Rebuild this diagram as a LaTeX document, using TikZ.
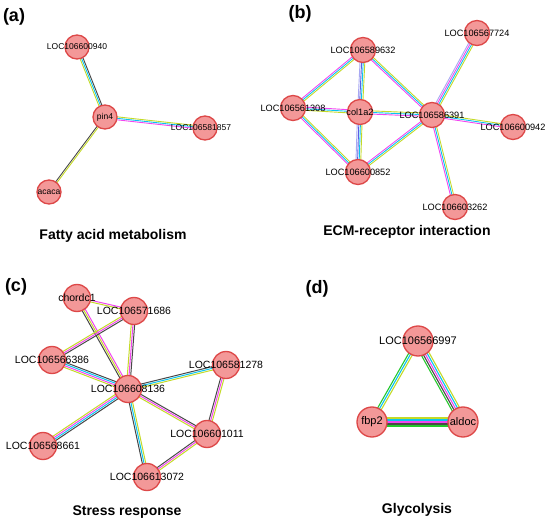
\documentclass[tikz,border=0pt]{standalone}
\usepackage{fontspec}
\setmainfont{Liberation Sans}
\usetikzlibrary{calc,backgrounds}

\definecolor{nodefill}{RGB}{243,152,152}
\definecolor{nodeedge}{RGB}{221,72,72}
\definecolor{mag}{RGB}{242,70,240}
\definecolor{cyan}{RGB}{10,196,240}
\definecolor{ylw}{RGB}{196,218,40}
\definecolor{blk}{RGB}{72,72,72}
\definecolor{grn}{RGB}{36,200,44}
\definecolor{lav}{RGB}{168,168,242}
\definecolor{blu}{RGB}{92,92,228}

% one STRING-like edge: several thin parallel lines, one per evidence colour
\newcommand{\strlink}[3]{%
  \foreach \c [count=\n] in {#3} {\xdef\nlines{\n}}%
  \foreach \c [count=\i] in {#3} {%
    \pgfmathsetmacro\off{(\i-(\nlines+1)/2)*\gap}%
    \draw[\c, line width=\lw] ($(#1.center)!\off pt!90:(#2.center)$) -- ($(#2.center)!\off pt!-90:(#1.center)$);
  }%
}

\tikzset{
  gene/.style={circle, draw=nodeedge, fill=nodefill, line width=1.3pt, minimum size=#1, inner sep=0pt},
  tag/.style={font=\bfseries\fontsize{18}{18}\selectfont},
  title/.style={font=\bfseries\fontsize{14}{14}\selectfont},
}

\begin{document}
\begin{tikzpicture}[x=1pt,y=-1pt]
\useasboundingbox (0,0) rectangle (550,524);

% (a)
\begin{scope}[every label/.style={font=\fontsize{8.5}{8.5}\selectfont}]
  \def\gap{1.5}\def\lw{0.9pt}
  \node[tag] (taga) at (14,17) {(a)};
  \node[gene=24pt, label={center:LOC106600940}] (a940) at (77,47) {};
  \node[gene=24pt, label={center:pin4}] (pin4) at (105,117) {};
  \node[gene=24pt, label={[xshift=-4pt]center:LOC106581857}] (a857) at (205,128) {};
  \node[gene=24pt, label={center:acaca}] (acaca) at (49,192) {};
  \node[title] (titlea) at (113,236) {Fatty acid metabolism};
  \begin{scope}[on background layer]
    \strlink{a940}{pin4}{ylw,cyan,blk}
    \strlink{pin4}{a857}{mag,cyan,ylw}
    \strlink{pin4}{acaca}{blk,ylw}
  \end{scope}
\end{scope}

% (b)
\begin{scope}[every label/.style={font=\fontsize{9.2}{9.2}\selectfont}]
  \def\gap{1.6}\def\lw{0.9pt}
  \node[tag] (tagb) at (300,14) {(b)};
  \node[gene=25pt, label={center:LOC106589632}] (b632) at (363,50) {};
  \node[gene=25pt, label={center:LOC106567724}] (b724) at (477,33) {};
  \node[gene=25pt, label={center:LOC106561308}] (b308) at (293,108) {};
  \node[gene=25pt, label={center:col1a2}] (col1a2) at (360,112) {};
  \node[gene=25pt, label={center:LOC106586391}] (b391) at (432,115) {};
  \node[gene=25pt, label={center:LOC106600942}] (b942) at (513,127) {};
  \node[gene=25pt, label={center:LOC106600852}] (b852) at (358,172) {};
  \node[gene=25pt, label={center:LOC106603262}] (b262) at (455,207) {};
  \node[title] (titleb) at (407,232) {ECM-receptor interaction};
  \begin{scope}[on background layer]
    \strlink{b632}{b308}{mag,cyan,ylw}
    \strlink{b632}{col1a2}{lav,blu,cyan,ylw}
    \strlink{b632}{b391}{mag,cyan,ylw}
    \strlink{b308}{col1a2}{ylw,cyan,mag}
    \strlink{b308}{b852}{mag,cyan,ylw}
    \strlink{col1a2}{b852}{lav,blu,cyan,ylw}
    \strlink{col1a2}{b391}{mag,cyan,ylw}
    \strlink{b852}{b391}{ylw,cyan,mag}
    \strlink{b391}{b724}{ylw,cyan,mag,lav}
    \strlink{b391}{b942}{mag,cyan,ylw}
    \strlink{b391}{b262}{mag,cyan,ylw}
  \end{scope}
\end{scope}

% (c)
\begin{scope}[every label/.style={font=\fontsize{10.5}{10.5}\selectfont}]
  \def\gap{1.7}\def\lw{1pt}
  \node[tag] (tagc) at (16,287) {(c)};
  \node[gene=27pt, label={center:chordc1}] (chordc1) at (77,298) {};
  \node[gene=27pt, label={center:LOC106571686}] (c686) at (134,311) {};
  \node[gene=27pt, label={center:LOC106566386}] (c386) at (52,360) {};
  \node[gene=27pt, label={center:LOC106581278}] (c278) at (226,365) {};
  \node[gene=27pt, label={center:LOC106608136}] (c136) at (128,389) {};
  \node[gene=27pt, label={center:LOC106568661}] (c661) at (43,446) {};
  \node[gene=27pt, label={center:LOC106601011}] (c011) at (207,434) {};
  \node[gene=27pt, label={center:LOC106613072}] (c072) at (147,477) {};
  \node[title] (titlec) at (127,512) {Stress response};
  \begin{scope}[on background layer]
    \strlink{chordc1}{c686}{ylw,mag}
    \strlink{chordc1}{c136}{blk,ylw,mag}
    \strlink{c686}{c386}{ylw,mag,blk}
    \strlink{c686}{c136}{ylw,mag,blk}
    \strlink{c386}{c136}{ylw,mag,cyan,blk}
    \strlink{c136}{c278}{ylw,cyan,blk}
    \strlink{c136}{c661}{ylw,mag,cyan,blk}
    \strlink{c136}{c011}{ylw,mag,blk}
    \strlink{c136}{c072}{blk,cyan,ylw}
    \strlink{c278}{c011}{blk,mag,ylw}
    \strlink{c011}{c072}{blk,mag,ylw}
  \end{scope}
\end{scope}

% (d)
\begin{scope}[every label/.style={font=\fontsize{11}{11}\selectfont}]
  \def\gap{2}\def\lw{1.1pt}
  \node[tag] (tagd) at (317,289) {(d)};
  \node[gene=30pt, label={center:LOC106566997}] (d997) at (418,341) {};
  \node[gene=30pt, label={center:fbp2}] (fbp2) at (372,422) {};
  \node[gene=30pt, label={center:aldoc}] (aldoc) at (463,422) {};
  \node[title] (titled) at (417,510) {Glycolysis};
  \begin{scope}[on background layer]
    \strlink{d997}{fbp2}{grn,cyan,ylw}
    \strlink{d997}{aldoc}{grn,blk,mag,cyan,ylw}
    \strlink{fbp2}{aldoc}{grn,blk,mag,cyan,ylw}
  \end{scope}
\end{scope}
\end{tikzpicture}
\end{document}
